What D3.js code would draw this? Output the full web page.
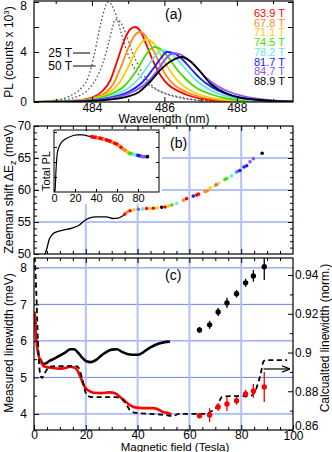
<!DOCTYPE html>
<html>
<head>
<meta charset="utf-8">
<script src="https://cdn.jsdelivr.net/npm/d3@7"></script>
<style>
body { margin: 0; background: #fff; }
svg { display: block; font-family: "Liberation Sans", Arial, sans-serif; }
</style>
</head>
<body>
<div id="graph"></div>
<script>
/*global d3 */

// ---- données ----
var fieldLabels = ["63.9 T", "67.8 T", "71.1 T", "74.5 T", "78.2 T", "81.7 T", "84.7 T", "88.9 T"],
    shotField = [63.9, 67.8, 71.1, 74.5, 78.2, 81.7, 84.7, 88.9],

    // (a) spectres [longueur d'onde nm, PL x 10^3]
    spec25T = [[482.4, 0.02], [483.0, 0.15], [483.4, 0.5], [483.7, 1.1], [483.9, 2.0], [484.08, 4.0], [484.25, 6.4], [484.45, 8.0], [484.62, 7.3], [484.8, 5.6], [484.97, 4.0], [485.15, 2.8], [485.35, 2.0], [485.6, 1.3], [485.95, 0.75], [486.3, 0.42], [486.7, 0.2], [487.2, 0.08], [488, 0.02], [489.6, 0]],
    spec50T = [[482.4, 0.01], [483.0, 0.1], [483.5, 0.35], [483.9, 1.0], [484.14, 2.0], [484.3, 3.1], [484.45, 4.6], [484.55, 5.8], [484.65, 6.6], [484.78, 6.4], [484.97, 5.2], [485.1, 4.1], [485.25, 3.1], [485.5, 1.85], [485.7, 1.2], [486.0, 0.72], [486.3, 0.48], [486.8, 0.2], [487.5, 0.07], [488.5, 0.01], [489.6, 0]],
    spec639 = [[482.4, 0], [483.5, 0.1], [484.0, 0.35], [484.3, 0.9], [484.5, 1.7], [484.7, 3.3], [484.9, 5.0], [485.05, 5.8], [485.19, 6.0], [485.35, 5.6], [485.5, 4.6], [485.7, 3.2], [485.9, 2.1], [486.1, 1.4], [486.4, 0.85], [486.8, 0.4], [487.2, 0.2], [487.8, 0.08], [488.5, 0.03], [489.6, 0]],
    spec678 = [[482.4, 0], [483.5, 0.08], [484.0, 0.3], [484.4, 0.8], [484.6, 1.5], [484.8, 2.8], [485.0, 4.3], [485.15, 5.2], [485.32, 5.6], [485.5, 5.2], [485.65, 4.4], [485.85, 3.2], [486.05, 2.1], [486.3, 1.3], [486.6, 0.8], [487.0, 0.4], [487.4, 0.2], [488, 0.08], [488.8, 0.02], [489.6, 0]],
    spec711 = [[482.4, 0], [483.5, 0.08], [484.0, 0.25], [484.5, 0.8], [484.75, 1.5], [485.0, 2.8], [485.2, 4.0], [485.35, 4.7], [485.5, 5.0], [485.7, 4.7], [485.85, 4.0], [486.05, 3.0], [486.25, 2.1], [486.5, 1.35], [486.8, 0.8], [487.2, 0.4], [487.6, 0.2], [488.2, 0.08], [489, 0.02], [489.6, 0]],
    spec745 = [[482.4, 0], [483.5, 0.06], [484.0, 0.2], [484.5, 0.6], [484.9, 1.3], [485.2, 2.4], [485.45, 3.6], [485.6, 4.2], [485.74, 4.4], [485.95, 4.1], [486.15, 3.4], [486.35, 2.6], [486.6, 1.8], [486.9, 1.1], [487.3, 0.6], [487.7, 0.3], [488.3, 0.12], [489, 0.04], [489.6, 0.01]],
    spec782 = [[482.4, 0], [483.5, 0.05], [484.0, 0.15], [484.5, 0.45], [485.0, 1.1], [485.3, 1.9], [485.55, 2.9], [485.75, 3.7], [485.93, 4.15], [486.15, 3.95], [486.35, 3.4], [486.6, 2.6], [486.85, 1.8], [487.15, 1.15], [487.5, 0.65], [487.9, 0.35], [488.4, 0.15], [489, 0.06], [489.6, 0.02]],
    spec817 = [[482.4, 0], [483.5, 0.04], [484.0, 0.12], [484.5, 0.35], [485.0, 0.8], [485.4, 1.6], [485.7, 2.7], [485.9, 3.5], [486.07, 4.0], [486.3, 3.85], [486.5, 3.4], [486.75, 2.6], [487.0, 1.85], [487.3, 1.2], [487.65, 0.7], [488.0, 0.4], [488.5, 0.18], [489, 0.08], [489.6, 0.03]],
    spec847 = [[482.4, 0], [483.5, 0.03], [484.0, 0.1], [484.5, 0.3], [485.0, 0.65], [485.5, 1.5], [485.8, 2.5], [486.05, 3.5], [486.24, 3.9], [486.45, 3.8], [486.65, 3.4], [486.9, 2.7], [487.15, 1.95], [487.45, 1.3], [487.8, 0.8], [488.2, 0.45], [488.6, 0.25], [489.1, 0.1], [489.6, 0.04]],
    spec889 = [[482.4, 0], [483.5, 0.02], [484.0, 0.08], [484.5, 0.2], [485.0, 0.45], [485.3, 0.8], [485.6, 1.6], [485.9, 2.6], [486.2, 3.3], [486.48, 3.6], [486.7, 3.3], [487.0, 2.4], [487.26, 1.5], [487.5, 1.0], [487.8, 0.6], [488.1, 0.35], [488.5, 0.2], [489, 0.08], [489.6, 0.03]],

    // (b) décalage Zeeman [champ T, meV]
    zeemanCurve = [[4.3, 50.0], [5.0, 50.9], [5.8, 52.2], [6.8, 52.9], [7.8, 53.3], [10.9, 53.7], [14.7, 54.05], [17.4, 54.5], [19.4, 55.2], [21.3, 55.6], [24, 55.8], [27.9, 55.8], [30.5, 55.55], [32.5, 55.6], [34, 55.9], [35.5, 56.3]],
    zeemanDots = [[35.1, 56.25], [36.0, 56.55], [37.1, 56.75], [38.6, 56.9], [40.3, 57.0], [42.0, 57.05], [43.5, 57.1], [44.8, 57.1], [46.1, 57.15], [47.5, 57.2], [49.3, 57.3], [50.6, 57.35], [51.9, 57.5], [53.2, 57.65], [55.1, 57.9], [57.7, 58.4], [58.9, 58.65], [61.5, 59.05], [62.8, 59.2], [63.5, 59.35], [66.0, 59.75], [66.9, 59.85], [68.0, 60.3], [69.9, 60.65], [70.5, 60.85], [71.2, 61.0], [73.7, 61.65], [74.4, 61.8], [76.3, 62.2], [78.0, 62.7], [78.5, 62.9], [79.5, 63.05], [81.1, 63.6], [82.1, 63.8], [83.4, 64.4], [84.7, 64.9], [88.1, 65.75]],
    zeemanDotShot = [0, 1, 0, 2, 6, 4, 0, 2, 0, 2, 7, 0, 2, 3, 4, 1, 0, 5, 0, 0, 1, 1, 2, 2, 6, 2, 3, 3, 4, 4, 6, 5, 5, 5, 6, 6, 7],

    // (b) encart : PL totale (u.a.)
    totalCurve = [[0.3, 0], [1.0, 0.12], [1.9, 1.45], [3.2, 2.6], [5.7, 3.14], [8.9, 3.43], [13.7, 3.63], [21.6, 3.8], [27.9, 3.8], [32.7, 3.72], [36, 3.68]],
    totalDots = [[36, 3.68], [38, 3.66], [40, 3.63], [42, 3.6], [44, 3.58], [46, 3.54], [48, 3.51], [50, 3.47], [52, 3.42], [54, 3.37], [56, 3.3], [58, 3.24], [60, 3.18], [62, 3.08], [64, 2.97], [66, 2.85], [68, 2.77], [70, 2.66], [72, 2.58], [74, 2.54], [76, 2.5], [78, 2.48], [80, 2.44], [82, 2.4], [84, 2.36], [86, 2.35], [88.9, 2.35]],
    totalDotShot = [0, 0, 0, 1, 0, 0, 1, 0, 0, 0, 1, 0, 0, 1, 0, 1, 1, 2, 3, 3, 4, 4, 5, 5, 6, 6, 7],

    // (c) largeurs de raie [champ T, meV] et calcul (norm.)
    widthBlack = [[2.5, 5.5], [3.5, 5.37], [4.5, 5.38], [6, 5.45], [8, 5.52], [10, 5.6], [12, 5.68], [14, 5.77], [15.5, 5.77], [17, 5.68], [18.5, 5.55], [20, 5.45], [22, 5.42], [24, 5.48], [26, 5.6], [28, 5.7], [30, 5.76], [32, 5.77], [34, 5.7], [36, 5.64], [38, 5.62], [40, 5.62], [42, 5.68], [44, 5.78], [46, 5.86], [48, 5.92], [50, 5.96], [52.5, 5.98]],
    widthRed = [[0.3, 6.8], [0.6, 6.35], [1, 5.95], [1.5, 5.7], [2, 5.55], [3, 5.38], [4, 5.3], [6, 5.27], [8, 5.25], [10, 5.24], [12, 5.26], [14, 5.29], [15.5, 5.27], [16.7, 5.2], [17.5, 5.08], [18.2, 4.97], [19, 4.82], [20, 4.7], [21, 4.64], [23, 4.58], [26, 4.57], [29, 4.59], [31.5, 4.56], [33, 4.48], [35, 4.36], [37, 4.24], [39, 4.18], [42, 4.16], [46, 4.16], [48, 4.12], [50, 4.05], [52, 4.02], [53, 3.98]],
    widthCalc = [[0.3, 0.9493], [1.0, 0.9271], [1.5, 0.9065], [2.0, 0.8935], [2.5, 0.8884], [3.1, 0.8868], [4, 0.8889], [5.8, 0.8925], [8, 0.893], [12.4, 0.893], [16.3, 0.893], [17.3, 0.892], [18, 0.8894], [19, 0.8843], [20, 0.8791], [21, 0.8775], [22.5, 0.877], [31.7, 0.877], [33, 0.8765], [34.3, 0.8755], [36, 0.8724], [37, 0.8703], [39.5, 0.8688], [45, 0.8683], [51, 0.8677], [53.5, 0.8672], [56, 0.8683], [60, 0.8683], [66.7, 0.8683], [68, 0.8693], [70.5, 0.8719], [72, 0.876], [72.5, 0.877], [75.6, 0.8775], [83.3, 0.8775], [85.3, 0.8796], [86.5, 0.8843], [87.2, 0.8874], [88, 0.892], [88.5, 0.8951], [89.5, 0.8961], [97.7, 0.8961]],
    shotWidth = [6.30, 6.44, 6.79, 7.04, 7.29, 7.59, 7.78, 8.03],
    shotWidthErr = [0.08, 0.11, 0.11, 0.14, 0.1, 0.11, 0.16, 0.36],
    shotWidthRed = [3.95, 3.97, 4.19, 4.27, 4.36, 4.55, 4.63, 4.74],
    shotWidthRedErr = [0.05, 0.19, 0.11, 0.19, 0.11, 0.11, 0.19, 0.41],

    wlTicks = [484, 486, 488],
    fieldTicks = [0, 20, 40, 60, 80, 100];

// ---- styles ----
var couleurs = ["#ff0000", "#ff8a1c", "#ffcc00", "#44dd00", "#66e8e8", "#1a1aff", "#8c55ff", "#000000"],
    grilleH = "#6d82f0",
    grilleV = "#b3c0f7";

function graduations(g, gen, x0, y0, values, len, fmt, pad) {
    "use strict";
    var a = g.append("g")
        .attr("transform", "translate(" + x0 + "," + y0 + ")")
        .call(gen.tickValues(values).tickSize(-len).tickPadding(pad === undefined ? 3 : pad)
            .tickFormat(fmt || function () { return ""; }));
    a.select(".domain").remove();
    a.attr("font-family", null).attr("font-size", null);
    a.selectAll("line").attr("stroke", "#000");
    return a;
}

function dessin() {
    "use strict";
    var svg = d3.select("#graph").append("svg")
            .attr("width", 332).attr("height", 452)
            .style("font-size", "12px"),
        defs = svg.append("defs"),

        xa = d3.scaleLinear().domain([482.4, 489.55]).range([34, 293]),
        ya = d3.scaleLinear().domain([0, 8.08]).range([102, 1]),
        xb = d3.scaleLinear().domain([0, 100]).range([34, 293]),
        yb = d3.scaleLinear().domain([50, 70]).range([254, 126]),
        xi = d3.scaleLinear().domain([0, 100]).range([54, 159]),
        yi = d3.scaleLinear().domain([0, 4.13]).range([192, 130]),
        yc = d3.scaleLinear().domain([3.56, 8.27]).range([430, 258]),
        yr = d3.scaleLinear().domain([0.86, 0.9488]).range([430, 258]),

        ligneA = d3.line().x(function (d) { return xa(d[0]); }).y(function (d) { return ya(d[1]); }).curve(d3.curveMonotoneX),
        ligneB = d3.line().x(function (d) { return xb(d[0]); }).y(function (d) { return yb(d[1]); }).curve(d3.curveMonotoneX),
        ligneI = d3.line().x(function (d) { return xi(d[0]); }).y(function (d) { return yi(d[1]); }).curve(d3.curveMonotoneX),
        ligneC = d3.line().x(function (d) { return xb(d[0]); }).y(function (d) { return yc(d[1]); }).curve(d3.curveMonotoneX),
        ligneR = d3.line().x(function (d) { return xb(d[0]); }).y(function (d) { return yr(d[1]); }).curve(d3.curveMonotoneX),

        spectres = [spec639, spec678, spec711, spec745, spec782, spec817, spec847, spec889],
        ga, gb, gc, t, fmtR;

    defs.append("clipPath").attr("id", "clipA").append("rect")
        .attr("x", 34).attr("y", 1).attr("width", 259).attr("height", 101);
    defs.append("clipPath").attr("id", "clipC").append("rect")
        .attr("x", 34).attr("y", 258).attr("width", 259).attr("height", 172);
    defs.append("marker").attr("id", "fleche").attr("viewBox", "0 0 10 10")
        .attr("refX", 9).attr("refY", 5).attr("markerWidth", 7).attr("markerHeight", 7)
        .attr("orient", "auto")
        .append("path").attr("d", "M0,1 L10,5 L0,9").attr("fill", "none").attr("stroke", "#000").attr("stroke-width", 1.5);

    // ================= (a) =================
    ga = svg.append("g");
    ga.append("g").attr("clip-path", "url(#clipA)")
        .selectAll("path.pointille")
        .data([spec25T, spec50T])
        .enter().append("path")
        .attr("d", ligneA)
        .attr("fill", "none")
        .attr("stroke", "#555")
        .attr("stroke-width", 1.3)
        .attr("stroke-dasharray", "1.6 2.2");
    ga.append("g").attr("clip-path", "url(#clipA)")
        .selectAll("path.spectre")
        .data(spectres)
        .enter().append("path")
        .attr("d", ligneA)
        .attr("fill", "none")
        .attr("stroke", function (d, i) { return couleurs[i]; })
        .attr("stroke-width", 1.8);

    graduations(ga, d3.axisBottom(xa), 0, 102, wlTicks, 5, d3.format("d"), 1);
    graduations(ga, d3.axisBottom(xa), 0, 102, [483, 485, 487, 489], 3);
    graduations(ga, d3.axisTop(xa), 0, 1, wlTicks, 5);
    graduations(ga, d3.axisTop(xa), 0, 1, [483, 485, 487, 489], 3);
    graduations(ga, d3.axisLeft(ya), 34, 0, [0, 4, 8], 5, d3.format("d"), 7)
        .selectAll("text").filter(function (d) { return d === 8; }).attr("dy", "0.6em");
    graduations(ga, d3.axisLeft(ya), 34, 0, [2, 6], 5);
    graduations(ga, d3.axisRight(ya), 293, 0, [2, 4, 6, 8], 5);
    ga.append("rect").attr("x", 34).attr("y", 1).attr("width", 259).attr("height", 101)
        .attr("fill", "none").attr("stroke", "#000").attr("stroke-width", 1.2);

    // étiquettes 25 T / 50 T
    [["25 T", 3.92, 483.95], ["50 T", 2.88, 484.1]].forEach(function (e) {
        ga.append("text").attr("x", xa(483.45)).attr("y", ya(e[1]) + 4)
            .attr("text-anchor", "end").text(e[0]);
        ga.append("line").attr("x1", xa(483.45) + 1).attr("x2", xa(e[2]))
            .attr("y1", ya(e[1])).attr("y2", ya(e[1]))
            .attr("stroke", "#000").attr("stroke-width", 1);
    });
    ga.selectAll("text.leg").data(fieldLabels).enter().append("text")
        .attr("x", 285)
        .attr("y", function (d, i) { return 17 + i * 9.7; })
        .attr("text-anchor", "end")
        .style("font-size", "11px")
        .attr("fill", function (d, i) { return couleurs[i]; })
        .text(function (d) { return d; });
    ga.append("text").attr("x", 165).attr("y", 19).style("font-size", "14px").text("(a)");
    ga.append("text").attr("x", 164).attr("y", 123).attr("text-anchor", "middle").text("Wavelength (nm)");
    t = ga.append("text").attr("transform", "translate(13,52) rotate(-90)").attr("text-anchor", "middle");
    t.append("tspan").text("PL (counts x 10");
    t.append("tspan").attr("dy", -4).style("font-size", "8px").text("3");
    t.append("tspan").attr("dy", 4).text(")");

    // ================= (b) =================
    gb = svg.append("g");
    gb.selectAll("line.gh").data([55, 60, 65]).enter().append("line")
        .attr("x1", 34).attr("x2", 293)
        .attr("y1", function (d) { return yb(d); }).attr("y2", function (d) { return yb(d); })
        .attr("stroke", grilleH).attr("stroke-width", 1);
    gb.selectAll("line.gv").data([20, 40, 60, 80]).enter().append("line")
        .attr("x1", function (d) { return xb(d); }).attr("x2", function (d) { return xb(d); })
        .attr("y1", 126).attr("y2", 254)
        .attr("stroke", grilleV).attr("stroke-width", 2);
    // fond de l'encart
    gb.append("rect").attr("x", 38).attr("y", 127).attr("width", 124).attr("height", 77).attr("fill", "#fff");

    gb.append("path").datum(zeemanCurve).attr("d", ligneB)
        .attr("fill", "none").attr("stroke", "#000").attr("stroke-width", 1.3);
    gb.selectAll("circle.z").data(zeemanDots).enter().append("circle")
        .attr("cx", function (d) { return xb(d[0]); })
        .attr("cy", function (d) { return yb(d[1]); })
        .attr("r", 1.8)
        .attr("fill", function (d, i) { return couleurs[zeemanDotShot[i]]; });

    graduations(gb, d3.axisLeft(yb), 34, 0, [50, 55, 60, 65, 70], 5, d3.format("d"), 3);
    graduations(gb, d3.axisLeft(yb), 34, 0, d3.range(51, 70).filter(function (v) { return v % 5; }), 3);
    graduations(gb, d3.axisRight(yb), 293, 0, [55, 60, 65], 5);
    graduations(gb, d3.axisRight(yb), 293, 0, d3.range(51, 70).filter(function (v) { return v % 5; }), 3);
    graduations(gb, d3.axisBottom(xb), 0, 254, [20, 40, 60, 80], 5);
    graduations(gb, d3.axisBottom(xb), 0, 254, d3.range(5, 100, 5).filter(function (v) { return v % 20; }), 3);
    graduations(gb, d3.axisTop(xb), 0, 126, [20, 40, 60, 80], 5);
    graduations(gb, d3.axisTop(xb), 0, 126, d3.range(5, 100, 5).filter(function (v) { return v % 20; }), 3);
    gb.append("rect").attr("x", 34).attr("y", 126).attr("width", 259).attr("height", 128)
        .attr("fill", "none").attr("stroke", "#000").attr("stroke-width", 1.2);
    gb.append("text").attr("x", 170).attr("y", 148).style("font-size", "14px").text("(b)");
    t = gb.append("text").attr("transform", "translate(13,189) rotate(-90)").attr("text-anchor", "middle");
    t.append("tspan").text("Zeeman shift  \u0394E");
    t.append("tspan").attr("dy", 3).style("font-size", "9px").text("z");
    t.append("tspan").attr("dy", -3).text(" (meV)");

    // encart
    gb.append("path").datum(totalCurve).attr("d", ligneI)
        .attr("fill", "none").attr("stroke", "#000").attr("stroke-width", 1.2);
    gb.selectAll("circle.tot").data(totalDots).enter().append("circle")
        .attr("cx", function (d) { return xi(d[0]); })
        .attr("cy", function (d) { return yi(d[1]); })
        .attr("r", 1.9)
        .attr("fill", function (d, i) { return couleurs[totalDotShot[i]]; });
    graduations(gb, d3.axisBottom(xi), 0, 192, [0, 20, 40, 60, 80], 3, d3.format("d"), 2)
        .style("font-size", "11px");
    graduations(gb, d3.axisLeft(yi), 54, 0, [1, 2, 3, 4], 3);
    graduations(gb, d3.axisRight(yi), 159, 0, [1, 2, 3, 4], 3);
    gb.append("rect").attr("x", 54).attr("y", 130).attr("width", 105).attr("height", 62)
        .attr("fill", "none").attr("stroke", "#000").attr("stroke-width", 1);
    gb.append("text").attr("transform", "translate(50,171) rotate(-90)").attr("text-anchor", "middle")
        .style("font-size", "11px").text("Total PL");

    // ================= (c) =================
    gc = svg.append("g");
    gc.selectAll("line.gh").data([4, 5, 6, 7, 8]).enter().append("line")
        .attr("x1", 34).attr("x2", 293)
        .attr("y1", function (d) { return yc(d); }).attr("y2", function (d) { return yc(d); })
        .attr("stroke", grilleH).attr("stroke-width", 1);
    gc.selectAll("line.gv").data([20, 40, 60, 80]).enter().append("line")
        .attr("x1", function (d) { return xb(d); }).attr("x2", function (d) { return xb(d); })
        .attr("y1", 258).attr("y2", 430)
        .attr("stroke", grilleV).attr("stroke-width", 2);

    t = gc.append("g").attr("clip-path", "url(#clipC)");
    t.append("path").datum(widthBlack).attr("d", ligneC)
        .attr("fill", "none").attr("stroke", "#000").attr("stroke-width", 2.6).attr("stroke-linejoin", "round");
    t.append("path").datum(widthRed).attr("d", ligneC)
        .attr("fill", "none").attr("stroke", "#ff0000").attr("stroke-width", 2.6).attr("stroke-linejoin", "round");
    t.append("path").datum(widthCalc).attr("d", ligneR)
        .attr("fill", "none").attr("stroke", "#000").attr("stroke-width", 1.8).attr("stroke-dasharray", "5 3.5");
    // barres d'erreur
    t.selectAll("line.eb").data(shotField).enter().append("line")
        .attr("x1", function (d) { return xb(d); }).attr("x2", function (d) { return xb(d); })
        .attr("y1", function (d, i) { return yc(shotWidth[i] - shotWidthErr[i]); })
        .attr("y2", function (d, i) { return yc(shotWidth[i] + shotWidthErr[i]); })
        .attr("stroke", "#000").attr("stroke-width", 1.3);
    t.selectAll("circle.eb").data(shotField).enter().append("circle")
        .attr("cx", function (d) { return xb(d); })
        .attr("cy", function (d, i) { return yc(shotWidth[i]); })
        .attr("r", 2.7).attr("fill", "#000");
    t.selectAll("line.er").data(shotField).enter().append("line")
        .attr("x1", function (d) { return xb(d); }).attr("x2", function (d) { return xb(d); })
        .attr("y1", function (d, i) { return yc(shotWidthRed[i] - shotWidthRedErr[i]); })
        .attr("y2", function (d, i) { return yc(shotWidthRed[i] + shotWidthRedErr[i]); })
        .attr("stroke", "#ff0000").attr("stroke-width", 1.3);
    t.selectAll("circle.er").data(shotField).enter().append("circle")
        .attr("cx", function (d) { return xb(d); })
        .attr("cy", function (d, i) { return yc(shotWidthRed[i]); })
        .attr("r", 2.7).attr("fill", "#ff0000");
    // flèche vers l'axe de droite
    gc.append("line")
        .attr("x1", xb(88.7)).attr("x2", xb(98.5))
        .attr("y1", yr(0.8915)).attr("y2", yr(0.8915))
        .attr("stroke", "#000").attr("stroke-width", 1.2)
        .attr("marker-end", "url(#fleche)");

    fmtR = function (d) { return String(+d.toFixed(2)); };
    graduations(gc, d3.axisLeft(yc), 34, 0, [4, 5, 6, 7, 8], 5, d3.format("d"), 7);
    graduations(gc, d3.axisLeft(yc), 34, 0, [4.5, 5.5, 6.5, 7.5], 3);
    graduations(gc, d3.axisRight(yr), 293, 0, [0.86, 0.88, 0.9, 0.92, 0.94], 5, fmtR, 2)
        .selectAll("text").filter(function (d) { return d === 0.86; }).attr("dy", "-0.05em");
    graduations(gc, d3.axisRight(yr), 293, 0, [0.87, 0.89, 0.91, 0.93], 3);
    graduations(gc, d3.axisBottom(xb), 0, 430, fieldTicks, 5, d3.format("d"), 0)
        .selectAll("text").filter(function (d) { return d === 100; }).attr("dy", "0.85em");
    graduations(gc, d3.axisBottom(xb), 0, 430, d3.range(5, 100, 5).filter(function (v) { return v % 20; }), 3);
    graduations(gc, d3.axisTop(xb), 0, 258, [20, 40, 60, 80], 5);
    graduations(gc, d3.axisTop(xb), 0, 258, d3.range(5, 100, 5).filter(function (v) { return v % 20; }), 3);
    gc.append("rect").attr("x", 34).attr("y", 258).attr("width", 259).attr("height", 172)
        .attr("fill", "none").attr("stroke", "#000").attr("stroke-width", 1.2);
    gc.append("text").attr("x", 165).attr("y", 280).style("font-size", "14px").text("(c)");
    gc.append("text").attr("x", 175).attr("y", 451).attr("text-anchor", "middle")
        .style("font-size", "11.5px").text("Magnetic field (Tesla)");
    gc.append("text").attr("transform", "translate(13,343) rotate(-90)").attr("text-anchor", "middle")
        .text("Measured linewidth (meV)");
    gc.append("text").attr("transform", "translate(329,338) rotate(-90)").attr("text-anchor", "middle")
        .text("Calcualted linewidth (norm.)");
}

dessin();
</script>
</body>
</html>
